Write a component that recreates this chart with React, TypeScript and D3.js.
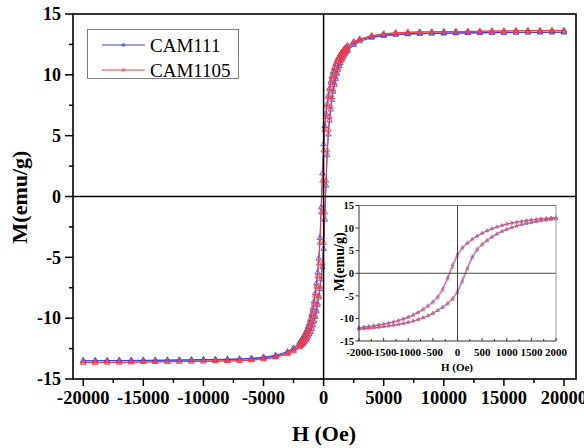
import * as d3 from "d3";

// applied field grid (Oe), shared by both branches of every loop
const FIELD = [
  -20000, -19000, -18000, -17000, -16000, -15000, -14000, -13000, -12000, -11000,
  -10000, -9000, -8000, -7000, -6000, -5000, -4000, -3000, -2500,
  -2000, -1900, -1800, -1700, -1600, -1500, -1400, -1300, -1200, -1100,
  -1000, -900, -800, -700, -600, -500, -400, -300, -200, -100,
  0, 100, 200, 300, 400, 500, 600, 700, 800, 900,
  1000, 1100, 1200, 1300, 1400, 1500, 1600, 1700, 1800, 1900, 2000,
  2500, 3000, 4000, 5000, 6000, 7000, 8000, 9000, 10000,
  11000, 12000, 13000, 14000, 15000, 16000, 17000, 18000, 19000, 20000,
];

// CAM111: descending branch (field swept from +H to -H), listed along FIELD
const CAM111_DOWN = [
  -13.5, -13.5, -13.49, -13.48, -13.47, -13.46, -13.45, -13.44, -13.43, -13.42,
  -13.4, -13.39, -13.37, -13.34, -13.3, -13.2, -13.05, -12.75, -12.45,
  -12.0, -11.88, -11.74, -11.58, -11.4, -11.2, -10.98, -10.72, -10.42, -10.06,
  -9.65, -9.18, -8.62, -7.95, -7.15, -6.25, -5.1, -3.4, -0.9, 1.9,
  4.3, 5.8, 6.8, 7.6, 8.3, 8.9, 9.45, 9.9, 10.28, 10.6,
  10.9, 11.12, 11.32, 11.5, 11.66, 11.8, 11.93, 12.04, 12.14, 12.23, 12.32,
  12.65, 12.88, 13.12, 13.26, 13.34, 13.38, 13.41, 13.43, 13.44,
  13.45, 13.46, 13.47, 13.48, 13.48, 13.49, 13.49, 13.5, 13.5, 13.5,
];
// CAM111: ascending branch (field swept from -H to +H)
const CAM111_UP = [
  -13.5, -13.5, -13.5, -13.49, -13.49, -13.48, -13.48, -13.47, -13.46, -13.45,
  -13.44, -13.43, -13.41, -13.38, -13.34, -13.26, -13.12, -12.88, -12.65,
  -12.32, -12.23, -12.14, -12.04, -11.93, -11.8, -11.66, -11.5, -11.32, -11.12,
  -10.9, -10.6, -10.28, -9.9, -9.45, -8.9, -8.3, -7.6, -6.8, -5.8,
  -4.3, -1.9, 0.9, 3.4, 5.1, 6.25, 7.15, 7.95, 8.62, 9.18,
  9.65, 10.06, 10.42, 10.72, 10.98, 11.2, 11.4, 11.58, 11.74, 11.88, 12.0,
  12.45, 12.75, 13.05, 13.2, 13.3, 13.34, 13.37, 13.39, 13.4,
  13.42, 13.43, 13.44, 13.45, 13.46, 13.47, 13.48, 13.49, 13.5, 13.5,
];

// CAM1105
const CAM1105_DOWN = [
  -13.65, -13.65, -13.64, -13.63, -13.62, -13.6, -13.6, -13.58, -13.57, -13.56,
  -13.55, -13.53, -13.52, -13.5, -13.44, -13.34, -13.18, -12.85, -12.55,
  -12.1, -11.98, -11.83, -11.68, -11.5, -11.3, -11.1, -10.85, -10.55, -10.2,
  -9.8, -9.35, -8.8, -8.15, -7.4, -6.55, -5.5, -3.8, -1.3, 1.3,
  3.8, 5.5, 6.55, 7.4, 8.15, 8.8, 9.35, 9.8, 10.2, 10.55,
  10.85, 11.1, 11.3, 11.5, 11.68, 11.83, 11.98, 12.1, 12.2, 12.3, 12.4,
  12.73, 12.95, 13.22, 13.38, 13.46, 13.5, 13.52, 13.53, 13.55,
  13.56, 13.57, 13.58, 13.6, 13.6, 13.62, 13.63, 13.64, 13.65, 13.65,
];
const CAM1105_UP = [
  -13.65, -13.65, -13.64, -13.63, -13.62, -13.6, -13.6, -13.58, -13.57, -13.56,
  -13.55, -13.53, -13.52, -13.5, -13.46, -13.38, -13.22, -12.95, -12.73,
  -12.4, -12.3, -12.2, -12.1, -11.98, -11.83, -11.68, -11.5, -11.3, -11.1,
  -10.85, -10.55, -10.2, -9.8, -9.35, -8.8, -8.15, -7.4, -6.55, -5.5,
  -3.8, -1.3, 1.3, 3.8, 5.5, 6.55, 7.4, 8.15, 8.8, 9.35,
  9.8, 10.2, 10.55, 10.85, 11.1, 11.3, 11.5, 11.68, 11.83, 11.98, 12.1,
  12.55, 12.85, 13.18, 13.34, 13.44, 13.5, 13.52, 13.53, 13.55,
  13.56, 13.57, 13.58, 13.6, 13.6, 13.62, 13.63, 13.64, 13.65, 13.65,
];

const SERIES_NAMES = ["CAM111", "CAM1105"];
const SERIES_COLORS = ["#3f3fdc", "#f23c46"];
const SERIES_DOWN = [CAM111_DOWN, CAM1105_DOWN];
const SERIES_UP = [CAM111_UP, CAM1105_UP];

const MAIN_X_TICKS = [-20000, -15000, -10000, -5000, 0, 5000, 10000, 15000, 20000];
const MAIN_X_MINOR = [-17500, -12500, -7500, -2500, 2500, 7500, 12500, 17500];
const MAIN_Y_TICKS = [-15, -10, -5, 0, 5, 10, 15];
const MAIN_Y_MINOR = [-12.5, -7.5, -2.5, 2.5, 7.5, 12.5];
const INSET_X_TICKS = [-2000, -1500, -1000, -500, 0, 500, 1000, 1500, 2000];
const INSET_X_MINOR = [-1750, -1250, -750, -250, 250, 750, 1250, 1750];
const INSET_Y_TICKS = [-15, -10, -5, 0, 5, 10, 15];

const FONT = "'Liberation Serif', 'Times New Roman', serif";

type Pt = [number, number];

function loop(i: number): Pt[] {
  const down: Pt[] = FIELD.map((h, k) => [h, SERIES_DOWN[i][k]] as Pt).reverse();
  const up: Pt[] = FIELD.map((h, k) => [h, SERIES_UP[i][k]] as Pt);
  return down.concat(up);
}

export default function App() {
  /* main plot */
  const x = d3.scaleLinear().domain([-20850, 21000]).range([73, 576]);
  const y = d3.scaleLinear().domain([-15, 15]).range([379, 14]);
  /* inset */
  const ix = d3.scaleLinear().domain([-2000, 2000]).range([359, 556]);
  const iy = d3.scaleLinear().domain([-15, 15]).range([341, 205.5]);

  const line = d3.line<Pt>().x((d) => x(d[0])).y((d) => y(d[1]));
  const iline = d3.line<Pt>().x((d) => ix(d[0])).y((d) => iy(d[1]));
  const tri = d3.symbol(d3.symbolTriangle, 13)();
  const triSmall = d3.symbol(d3.symbolTriangle, 4.5)();
  const loops = SERIES_NAMES.map((_, i) => loop(i));
  const insetLoops = loops.map((pts) => pts.filter((p) => Math.abs(p[0]) <= 2000));

  return (
    <svg width={584} height={448} style={{ position: "absolute", left: 0, top: 0, background: "#fff" }} fontFamily={FONT}>
      {/* curves */}
      {loops.map((pts, i) => (
        <g key={SERIES_NAMES[i]} stroke={SERIES_COLORS[i]} fill="none">
          <path d={line(pts) || ""} strokeWidth={1} />
          {pts.map((p, k) => (
            <path key={k} d={tri || ""} transform={`translate(${x(p[0])},${y(p[1])})`} strokeWidth={0.8} />
          ))}
        </g>
      ))}

      {/* zero lines */}
      <line x1={x(0)} x2={x(0)} y1={y(15)} y2={y(-15)} stroke="#000" strokeWidth={1.5} />
      <line x1={73} x2={576} y1={y(0)} y2={y(0)} stroke="#000" strokeWidth={1.5} />

      {/* frame */}
      <rect x={73} y={14} width={503} height={365} fill="none" stroke="#000" strokeWidth={1.6} />

      {/* y axis */}
      {MAIN_Y_TICKS.map((t) => (
        <g key={t}>
          <line x1={65} x2={73} y1={y(t)} y2={y(t)} stroke="#000" strokeWidth={1.5} />
          <text x={61} y={y(t)} dy="0.35em" textAnchor="end" fontSize={18} fontWeight="bold">{t}</text>
        </g>
      ))}
      {MAIN_Y_MINOR.map((t) => (
        <line key={t} x1={69} x2={73} y1={y(t)} y2={y(t)} stroke="#000" strokeWidth={1.5} />
      ))}
      {/* x axis */}
      {MAIN_X_TICKS.map((t) => (
        <g key={t}>
          <line x1={x(t)} x2={x(t)} y1={379} y2={386} stroke="#000" strokeWidth={1.5} />
          <text x={x(t)} y={404} textAnchor="middle" fontSize={18.5} fontWeight="bold">{t}</text>
        </g>
      ))}
      {MAIN_X_MINOR.map((t) => (
        <line key={t} x1={x(t)} x2={x(t)} y1={379} y2={383} stroke="#000" strokeWidth={1.5} />
      ))}
      <text x={324} y={441} textAnchor="middle" fontSize={22} fontWeight="bold">H (Oe)</text>
      <text transform="translate(27,197) rotate(-90)" textAnchor="middle" fontSize={22} fontWeight="bold">M(emu/g)</text>

      {/* legend */}
      <rect x={87.5} y={29.5} width={151} height={49} fill="#fff" stroke="#808080" strokeWidth={1} />
      {SERIES_NAMES.map((name, i) => (
        <g key={name}>
          <line x1={102} x2={145} y1={45 + i * 25} y2={45 + i * 25} stroke={SERIES_COLORS[i]} strokeWidth={1} />
          <path d={triSmall || ""} transform={`translate(123.5,${45 + i * 25})`} fill="none" stroke={SERIES_COLORS[i]} strokeWidth={0.8} />
          <text x={150} y={52 + i * 25} fontSize={19}>{name}</text>
        </g>
      ))}

      {/* inset */}
      <g>
        <rect x={359} y={205.5} width={197} height={135.5} fill="#fff" stroke="none" />
        {insetLoops.map((pts, i) => (
          <g key={SERIES_NAMES[i]} stroke={SERIES_COLORS[i]} fill="none" opacity={0.8}>
            <path d={iline(pts) || ""} strokeWidth={0.8} />
            {pts.map((p, k) => (
              <path key={k} d={triSmall || ""} transform={`translate(${ix(p[0])},${iy(p[1])})`} strokeWidth={0.6} />
            ))}
          </g>
        ))}
        <line x1={ix(0)} x2={ix(0)} y1={iy(15)} y2={iy(-15)} stroke="#444" strokeWidth={1} />
        <line x1={359} x2={556} y1={iy(0)} y2={iy(0)} stroke="#444" strokeWidth={1} />
        <line x1={359} x2={556} y1={205.5} y2={205.5} stroke="#777" strokeWidth={1} />
        <line x1={556} x2={556} y1={205.5} y2={341} stroke="#999" strokeWidth={1} />
        <line x1={359} x2={359} y1={205.5} y2={341} stroke="#333" strokeWidth={1} />
        <line x1={359} x2={556} y1={341} y2={341} stroke="#333" strokeWidth={1} />
        {INSET_Y_TICKS.map((t) => (
          <g key={t}>
            <line x1={355.5} x2={359} y1={iy(t)} y2={iy(t)} stroke="#333" strokeWidth={1} />
            <text x={354} y={iy(t)} dy="0.35em" textAnchor="end" fontSize={10.5} fontWeight="bold">{t}</text>
          </g>
        ))}
        {INSET_X_TICKS.map((t) => (
          <g key={t}>
            <line x1={ix(t)} x2={ix(t)} y1={341} y2={338} stroke="#333" strokeWidth={1} />
            <text x={ix(t)} y={355.5} textAnchor="middle" fontSize={11} fontWeight="bold">{t}</text>
          </g>
        ))}
        {INSET_X_MINOR.map((t) => (
          <line key={t} x1={ix(t)} x2={ix(t)} y1={341} y2={339} stroke="#333" strokeWidth={1} />
        ))}
        <text x={457} y={371} textAnchor="middle" fontSize={11} fontWeight="bold">H (Oe)</text>
        <text transform="translate(344,262) rotate(-90)" textAnchor="middle" fontSize={14} fontWeight="bold">M(emu/g)</text>
      </g>
    </svg>
  );
}
